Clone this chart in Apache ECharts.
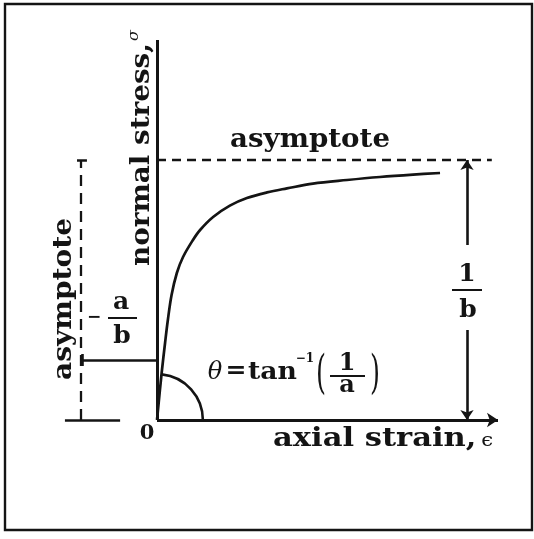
<!DOCTYPE html>
<html>
<head>
<meta charset="utf-8">
<script src="https://cdn.jsdelivr.net/npm/echarts@6/dist/echarts.min.js"></script>
<style>
  html, body { margin: 0; padding: 0; background: #fff; }
  #chart { width: 534px; height: 539px; }
</style>
</head>
<body>
<div id="chart"></div>
<script>
// Hyperbolic stress–strain curve: sigma rises steeply from the origin and
// levels off towards the horizontal asymptote 1/b.
const strain = [0, 0.15, 0.26, 0.35, 0.47, 0.64, 0.84, 1.16, 1.39, 1.81, 2.35, 2.9, 3.55, 4.19, 5.03, 6.13, 7.19, 8.26, 9.13];
const stress = [0, 2.35, 3.85, 5.0, 6.25, 7.35, 8.15, 9.0, 9.5, 10.15, 10.72, 11.1, 11.38, 11.58, 11.82, 12.0, 12.15, 12.27, 12.35];

const stressAsymptote = 13;     // 1/b
const strainAsymptote = -2.46;  // -a/b
const interceptLevel = 3;       // height of the -a/b bracket
const strainMax = 11;
const stressMax = 19;
const asymptoteReach = 10.8;    // right end of the dashed 1/b line
const dimStrain = 10;           // where the 1/b dimension arrows stand
const dimGap = [4.5, 8.75];     // break in the dimension line for its label
const arcReach = 1.48;          // radius of the theta arc, in strain units
const arcSpan = 84;             // degrees swept by the theta arc

const INK = '#141414';
const SERIF = "'DejaVu Serif'";
const B = size => `bold ${size}px ${SERIF}`;

const measureCtx = document.createElement('canvas').getContext('2d');
function measure(text, font) {
  measureCtx.font = font;
  return measureCtx.measureText(text).width;
}

// A run of text pieces set on one baseline, stretched to a given length.
function textRun(pieces, x0, y0, length, rotation) {
  let cursor = 0;
  const children = [];
  pieces.forEach(p => {
    cursor += p.dx || 0;
    children.push({
      type: 'text', x: cursor, y: p.dy,
      style: { text: p.text, font: p.font, fill: INK, align: 'left', verticalAlign: 'middle' }
    });
    cursor += measure(p.text, p.font);
  });
  return { type: 'group', x: x0, y: y0, rotation: rotation || 0, scaleX: length / cursor, children };
}

function label(text, font, cx, cy, width) {
  const sx = width ? width / measure(text, font) : 1;
  return {
    type: 'text', x: cx, y: cy, scaleX: sx,
    style: { text, font, fill: INK, align: 'center', verticalAlign: 'middle' }
  };
}

function rule(x1, y1, x2, y2, w) {
  return { type: 'line', shape: { x1, y1, x2, y2 }, style: { stroke: INK, lineWidth: w || 2 } };
}

function segments(list, style, symbol, symbolSize) {
  return {
    type: 'lines', coordinateSystem: 'cartesian2d', polyline: false, silent: true,
    symbol: symbol || ['none', 'none'], symbolSize: symbolSize || 10,
    lineStyle: Object.assign({ color: INK, opacity: 1, curveness: 0 }, style),
    itemStyle: { color: INK },
    data: list.map(c => ({ coords: c })),
    z: 3
  };
}

const chart = echarts.init(document.getElementById('chart'), null, { renderer: 'canvas' });

chart.setOption({
  animation: false,
  backgroundColor: '#fff',
  grid: { left: 2, right: 36, top: 40, bottom: 99 },
  xAxis: { type: 'value', min: -5, max: strainMax, show: false },
  yAxis: { type: 'value', min: -1, max: stressMax, show: false },
  series: [
    // stress-strain curve
    {
      type: 'line', data: strain.map((s, i) => [s, stress[i]]),
      smooth: 0.35, showSymbol: false, silent: true,
      lineStyle: { color: INK, width: 2.7 }, z: 4
    },
    // axes
    segments([[[0, 0], [strainMax, 0]]], { width: 3 }, ['none', 'arrow'], [0, 11]),
    segments([[[0, 0], [0, stressMax]]], { width: 3 }),
    // 1/b dimension arrows
    segments([
      [[dimStrain, dimGap[1]], [dimStrain, stressAsymptote]],
      [[dimStrain, dimGap[0]], [dimStrain, 0]]
    ], { width: 2.6 }, ['none', 'arrow'], [0, 10]),
    // asymptotes
    segments([[[0, stressAsymptote], [asymptoteReach, stressAsymptote]]], { width: 2.3, type: [9, 6] }),
    segments([[[strainAsymptote, 0], [strainAsymptote, stressAsymptote]]], { width: 2.3, type: [11, 7] }),
    // ticks and the -a/b bracket
    segments([
      [[strainAsymptote - 0.12, stressAsymptote], [strainAsymptote + 0.2, stressAsymptote]],
      [[strainAsymptote - 0.51, 0], [strainAsymptote + 1.27, 0]],
      [[strainAsymptote + 0.04, interceptLevel], [0, interceptLevel]],
      [[strainAsymptote + 0.04, interceptLevel - 0.3], [strainAsymptote + 0.04, interceptLevel + 0.3]]
    ], { width: 2.6 }),
    // theta arc at the origin
    {
      type: 'custom', coordinateSystem: 'cartesian2d', silent: true, z: 4,
      data: [[0, 0]],
      renderItem(params, api) {
        const o = api.coord([0, 0]);
        const e = api.coord([arcReach, 0]);
        return {
          type: 'arc',
          shape: { cx: o[0], cy: o[1], r: e[0] - o[0], startAngle: -arcSpan * Math.PI / 180, endAngle: 0, clockwise: true },
          style: { stroke: INK, lineWidth: 2.6, fill: null }
        };
      }
    }
  ],
  graphic: [
    { type: 'rect', shape: { x: 5, y: 4, width: 527, height: 526 }, style: { fill: null, stroke: INK, lineWidth: 2.4 }, z: 10 },

    textRun([{ text: 'asymptote', font: B(26), dy: -7.8 }], 230, 148, 160, 0),
    textRun([
      { text: 'axial strain,', font: B(26), dy: -7.8 },
      { text: 'ϵ', font: `18px ${SERIF}`, dy: -6, dx: 4 }
    ], 273, 447, 220, 0),
    textRun([
      { text: 'normal stress,', font: B(26), dy: -7.8 },
      { text: 'σ', font: `italic 15px ${SERIF}`, dy: -16, dx: 2 }
    ], 150, 266, 236, Math.PI / 2),
    textRun([{ text: 'asymptote', font: B(26), dy: -7.8 }], 72, 380, 162, Math.PI / 2),

    label('0', B(21), 147, 433.5),

    // -a/b
    label('−', B(17), 94, 318),
    label('a', B(25), 121, 302.5),
    rule(108, 318, 137, 318, 2),
    label('b', B(25), 122, 336.5),

    // 1/b
    label('1', B(25), 467, 274.5),
    rule(452, 290, 482, 290, 2),
    label('b', B(25), 468, 310.5),

    // theta = tan^-1(1/a)
    label('θ', `italic 24px ${SERIF}`, 215, 372.5),
    label('=', B(24), 236, 372, 21),
    label('tan', B(24), 272.5, 372.8, 49),
    label('−1', B(12), 305, 359),
    label('(', `46px ${SERIF}`, 321, 376, 10),
    label('1', B(24), 347, 364),
    rule(330, 376, 365, 376, 2),
    label('a', B(24), 347, 385.8),
    label(')', `46px ${SERIF}`, 375, 376, 10)
  ]
});
</script>
</body>
</html>
